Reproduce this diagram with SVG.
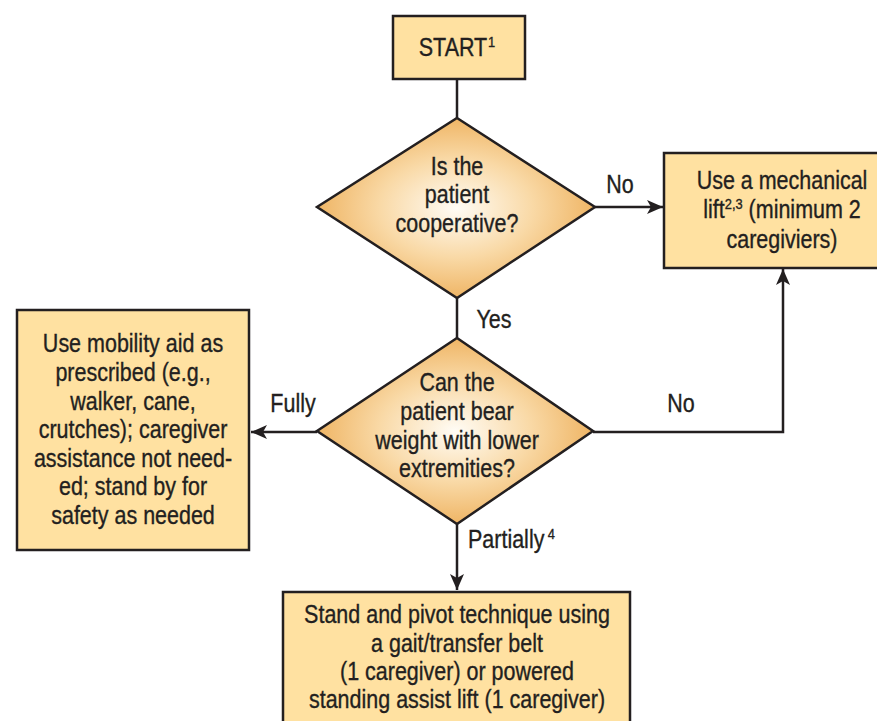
<svg xmlns="http://www.w3.org/2000/svg" width="877" height="721" viewBox="0 0 877 721">
<defs>
<radialGradient id="dg" cx="50%" cy="50%" r="50%">
<stop offset="0" stop-color="#FFFCF5"/>
<stop offset="0.55" stop-color="#F9D9A6"/>
<stop offset="1" stop-color="#EFB565"/>
</radialGradient>
<marker id="ah" markerUnits="userSpaceOnUse" markerWidth="18" markerHeight="14" refX="16" refY="7" orient="auto">
<path d="M0,0 L16,7 L0,14 L4,7 z" fill="#231F20"/>
</marker>
</defs>
<style>
.box{fill:#FFE1A1;stroke:#231F20;stroke-width:2.5}
.dia{fill:url(#dg);stroke:#231F20;stroke-width:2.5}
.ln{fill:none;stroke:#231F20;stroke-width:2.5}
text{font-family:"Liberation Sans",Arial,sans-serif;font-size:25px;fill:#231F20;stroke:#231F20;stroke-width:0.35;text-anchor:middle}
.sup{font-size:15px}
</style>
<rect width="877" height="721" fill="#FFFFFF"/>
<g id="connectors">
<path class="ln" d="M457,79 V118"/>
<path class="ln" d="M457,298 V338"/>
<path class="ln" d="M595,207 H663" marker-end="url(#ah)"/>
<path class="ln" d="M593,432 H783 V269" marker-end="url(#ah)"/>
<path class="ln" d="M317,432 H251" marker-end="url(#ah)"/>
<path class="ln" d="M457,524 V590" marker-end="url(#ah)"/>
<g transform="translate(620,0) scale(0.86,1)"><text x="0" y="193">No</text></g>
<g transform="translate(494,0) scale(0.86,1)"><text x="0" y="328">Yes</text></g>
<g transform="translate(293,0) scale(0.86,1)"><text x="0" y="412">Fully</text></g>
<g transform="translate(681,0) scale(0.86,1)"><text x="0" y="412">No</text></g>
<g transform="translate(468,0) scale(0.86,1)"><text x="0" y="548" style="text-anchor:start">Partially<tspan class="sup" dx="4" dy="-9">4</tspan></text></g>
</g>
<g id="start">
<rect class="box" x="393" y="16" width="132" height="63"/>
<g transform="translate(457,0) scale(0.86,1)"><text x="0" y="56">START<tspan class="sup" dx="1" dy="-9">1</tspan></text></g>
</g>
<g id="q1">
<polygon class="dia" points="457,118 595,207 457,298 317,207"/>
<g transform="translate(457,0) scale(0.86,1)">
<text x="0" y="175">Is the</text>
<text x="0" y="203">patient</text>
<text x="0" y="232">cooperative?</text>
</g>
</g>
<g id="mech">
<rect class="box" x="664" y="153" width="230" height="115"/>
<g transform="translate(782,0) scale(0.86,1)">
<text x="0" y="189">Use a mechanical</text>
<text x="0" y="218">lift<tspan class="sup" dy="-9">2,3</tspan><tspan dy="9"> (minimum 2</tspan></text>
<text x="0" y="248">caregiviers)</text>
</g>
</g>
<g id="q2">
<polygon class="dia" points="457,338 593,431 457,524 317,431"/>
<g transform="translate(457,0) scale(0.86,1)">
<text x="0" y="391">Can the</text>
<text x="0" y="420">patient bear</text>
<text x="0" y="449">weight with lower</text>
<text x="0" y="477">extremities?</text>
</g>
</g>
<g id="mobility">
<rect class="box" x="17" y="310" width="232" height="240"/>
<g transform="translate(133,0) scale(0.86,1)">
<text x="0" y="352">Use mobility aid as</text>
<text x="0" y="381">prescribed (e.g.,</text>
<text x="0" y="410">walker, cane,</text>
<text x="0" y="438">crutches); caregiver</text>
<text x="0" y="467">assistance not need-</text>
<text x="0" y="495">ed; stand by for</text>
<text x="0" y="524">safety as needed</text>
</g>
</g>
<g id="pivot">
<rect class="box" x="283" y="592" width="347" height="140"/>
<g transform="translate(457,0) scale(0.86,1)">
<text x="0" y="623">Stand and pivot technique using</text>
<text x="0" y="652">a gait/transfer belt</text>
<text x="0" y="680">(1 caregiver) or powered</text>
<text x="0" y="708">standing assist lift (1 caregiver)</text>
</g>
</g>
</svg>
